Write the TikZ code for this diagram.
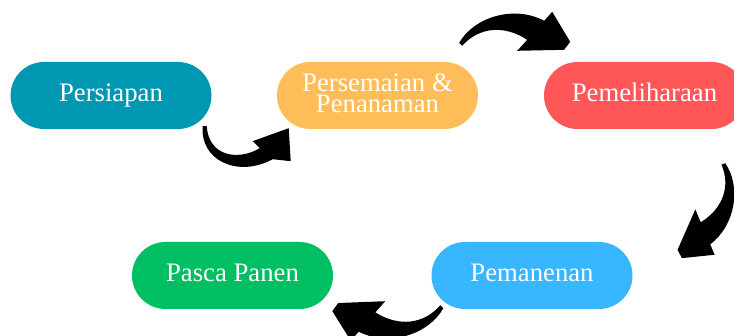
\documentclass[tikz,border=0pt]{standalone}
\usepackage{fontspec}
\setmainfont{Liberation Serif}
\usetikzlibrary{positioning,calc}

\definecolor{stageteal}{HTML}{0097B2}
\definecolor{stageorange}{HTML}{FFBD59}
\definecolor{stagered}{HTML}{FF5757}
\definecolor{stageblue}{HTML}{38B6FF}
\definecolor{stagegreen}{HTML}{00BF63}

\tikzset{
  stage/.style={rectangle, rounded corners=33.5pt, minimum width=201pt,
    minimum height=67pt, inner sep=0pt, text=white,
    font=\fontsize{26.7}{21}\selectfont},
  oneline/.style={text height=18.7pt, text depth=5.8pt},
  % brush arrow, tail at the origin
  brusharrow/.pic={
    \fill (0,0) .. controls (15,-26) and (55,-38) .. (85,-22) -- (93,-31)
      -- (111,-1) -- (105,7) -- (58,8) -- (68,-3)
      .. controls (45,-18) and (20,-16) .. (3,3) -- cycle;
  },
  % curled brush arrow, tail at the origin
  brushcurl/.pic={
    \fill (0,0) .. controls (-3,34) and (35,52) .. (70,33) -- (88,35)
      -- (86,2) -- (50,15) -- (57,22)
      .. controls (35,35) and (6,30) .. (4,0) -- cycle;
  }
}

\begin{document}
\begin{tikzpicture}[x=1pt,y=-1pt]
    \useasboundingbox (0,0) rectangle (734,336);

    % Stages
    \node[stage, oneline, fill=stageteal] (persiapan) at (111,95.5) {Persiapan};
    \node[stage, align=center, fill=stageorange] (persemaian) at (377.5,95.5)
        {Persemaian \&\\Penanaman\vphantom{p}};
    \node[stage, oneline, fill=stagered] (pemeliharaan) at (644.5,95.5) {Pemeliharaan};
    \node[stage, oneline, fill=stageblue] (pemanenan) at (532,275.5) {Pemanenan};
    \node[stage, oneline, fill=stagegreen] (pasca) at (232.5,275.5) {Pasca Panen};

    % Arrows between stages
    \pic at ([shift={(-9,-3)}]persiapan.south east) {brushcurl};
    \pic at ([shift={(-19,-19)}]persemaian.north east) {brusharrow};
    \pic[rotate=-115, scale=0.94] at ([shift={(-20,34)}]pemeliharaan.south east) {brusharrow};
    \pic[rotate=-179] at ([shift={(12,-1)}]pemanenan.south west) {brusharrow};

\end{tikzpicture}
\end{document}
